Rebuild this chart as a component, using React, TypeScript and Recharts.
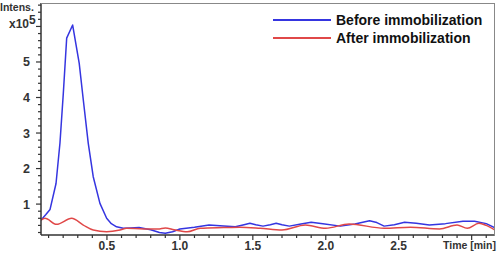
import { LineChart, Line, XAxis, YAxis } from "recharts";

const beforeTime = [
  0.048, 0.08, 0.11, 0.151, 0.178, 0.201, 0.224, 0.265, 0.31, 0.338, 0.372, 0.406, 0.452, 0.498,
  0.53, 0.566, 0.612, 0.66, 0.72, 0.8, 0.86, 0.9, 0.95, 1.0, 1.1, 1.2, 1.3, 1.38, 1.44, 1.48, 1.52,
  1.57, 1.62, 1.66, 1.7, 1.75, 1.83, 1.9, 1.98, 2.1, 2.2, 2.3, 2.35, 2.4, 2.47, 2.54, 2.62, 2.71,
  2.82, 2.94, 3.02, 3.1, 3.16,
];
const beforeIntensity = [
  0.55, 0.7, 0.85, 1.58, 2.72, 4.12, 5.67, 6.04, 4.96, 3.93, 2.71, 1.77, 1.02, 0.6, 0.45, 0.36,
  0.32, 0.33, 0.34, 0.28, 0.2, 0.18, 0.22, 0.3, 0.35, 0.41, 0.38, 0.36, 0.42, 0.46, 0.42, 0.38,
  0.42, 0.46, 0.42, 0.38, 0.44, 0.49, 0.45, 0.38, 0.44, 0.53, 0.48, 0.38, 0.42, 0.49, 0.46, 0.41,
  0.45, 0.52, 0.52, 0.45, 0.33,
];
const afterTime = [
  0.048, 0.075, 0.155, 0.258, 0.338, 0.406, 0.498, 0.589, 0.635, 0.75, 0.85, 0.9, 0.96, 1.05, 1.14,
  1.3, 1.41, 1.55, 1.7, 1.86, 2.0, 2.16, 2.4, 2.58, 2.78, 2.9, 2.97, 3.05, 3.1, 3.16,
];
const afterIntensity = [
  0.55, 0.6, 0.43, 0.6, 0.41, 0.27, 0.22, 0.27, 0.32, 0.3, 0.3, 0.33, 0.28, 0.22, 0.32, 0.34, 0.35,
  0.32, 0.27, 0.41, 0.32, 0.44, 0.32, 0.35, 0.3, 0.41, 0.32, 0.46, 0.4, 0.27,
];
const xTicks = Array.from({ length: 31 }, (_, i) => Math.round((i + 1) * 10) / 100);
const yTicks = Array.from({ length: 33 }, (_, i) => Math.round((i + 1) * 2) / 10);
const xLabels = [0.5, 1.0, 1.5, 2.0, 2.5, 3.0];
const yLabels = [1, 2, 3, 4, 5, 6];
const seriesNames = ["Before immobilization", "After immobilization"];

const before = beforeTime.map((t, i) => ({ t, v: beforeIntensity[i] }));
const after = afterTime.map((t, i) => ({ t, v: afterIntensity[i] }));

const BLUE = "#3535e0";
const RED = "#e04848";
const FONT = "'Liberation Sans', Arial, sans-serif";

function XTick(props: any) {
  const { x, y, payload } = props;
  const val = payload.value;
  const major = xLabels.some((m) => Math.abs(m - val) < 1e-6);
  return (
    <g>
      <line x1={x} x2={x} y1={y - 8} y2={y - 8 + (major ? 5 : 3)} stroke="#333" strokeWidth={1.2} />
      {major && val < 2.9 && (
        <text x={x} y={y + 7} textAnchor="middle" fontSize={12} fontWeight="bold" fill="#333" fontFamily={FONT}>
          {val.toFixed(1)}
        </text>
      )}
    </g>
  );
}

function YTick(props: any) {
  const { x, y, payload } = props;
  const val = payload.value;
  const major = yLabels.some((m) => Math.abs(m - val) < 1e-6);
  return (
    <g>
      <line x1={x + 8} x2={x + 8 - (major ? 5 : 3)} y1={y} y2={y} stroke="#333" strokeWidth={1.2} />
      {major && val < 5.5 && (
        <text x={x - 3} y={y + 4.5} textAnchor="end" fontSize={12.5} fontWeight="bold" fill="#333" fontFamily={FONT}>
          {val}
        </text>
      )}
    </g>
  );
}

export default function App() {
  const colors = [BLUE, RED];
  return (
    <div style={{ position: "absolute", left: 0, top: 0, width: 498, height: 255, background: "#fff", overflow: "hidden" }}>
      <LineChart width={498} height={255} margin={{ top: 3, right: 3, bottom: 0, left: 0 }}>
        <XAxis
          xAxisId="b"
          dataKey="t"
          type="number"
          domain={[0.048, 3.16]}
          ticks={xTicks}
          interval={0}
          tick={<XTick />}
          tickLine={false}
          axisLine={{ stroke: "#333", strokeWidth: 1.5 }}
          height={20}
          allowDataOverflow
        />
        <YAxis
          yAxisId="l"
          dataKey="v"
          type="number"
          domain={[0.13, 6.66]}
          ticks={yTicks}
          interval={0}
          tick={<YTick />}
          tickLine={false}
          axisLine={{ stroke: "#333", strokeWidth: 1.5 }}
          width={41}
          allowDataOverflow
        />
        <Line
          xAxisId="b"
          yAxisId="l"
          data={before}
          dataKey="v"
          type="linear"
          stroke={BLUE}
          strokeWidth={1.5}
          strokeLinejoin="round"
          dot={false}
          isAnimationActive={false}
          name={seriesNames[0]}
        />
        <Line
          xAxisId="b"
          yAxisId="l"
          data={after}
          dataKey="v"
          type="monotone"
          stroke={RED}
          strokeWidth={1.5}
          dot={false}
          isAnimationActive={false}
          name={seriesNames[1]}
        />
      </LineChart>
      {/* top and right frame lines */}
      <div style={{ position: "absolute", left: 41, top: 3, width: 453, height: 232, borderTop: "1px solid #888", borderRight: "1px solid #888", pointerEvents: "none" }} />
      <div style={{ position: "absolute", left: 273, top: 11, fontFamily: FONT }}>
        {seriesNames.map((name, i) => (
          <div key={name} style={{ display: "flex", alignItems: "center", height: 18 }}>
            <div style={{ width: 58, height: 2, background: colors[i], marginRight: 5 }} />
            <span style={{ fontSize: 14, fontWeight: "bold", color: "#111", whiteSpace: "nowrap" }}>{name}</span>
          </div>
        ))}
      </div>
      <div style={{ position: "absolute", left: 0, top: 1, fontFamily: FONT, fontSize: 10.5, fontWeight: "bold", color: "#333" }}>
        Intens.
      </div>
      <div style={{ position: "absolute", left: 9, top: 13, fontFamily: FONT, fontSize: 12, fontWeight: "bold", color: "#333", whiteSpace: "nowrap" }}>
        x10<sup style={{ fontSize: 12, verticalAlign: "4px" }}>5</sup>
      </div>
      <div style={{ position: "absolute", left: 443, top: 239, fontFamily: FONT, fontSize: 10.5, fontWeight: "bold", color: "#333", whiteSpace: "nowrap" }}>
        Time [min]
      </div>
    </div>
  );
}
